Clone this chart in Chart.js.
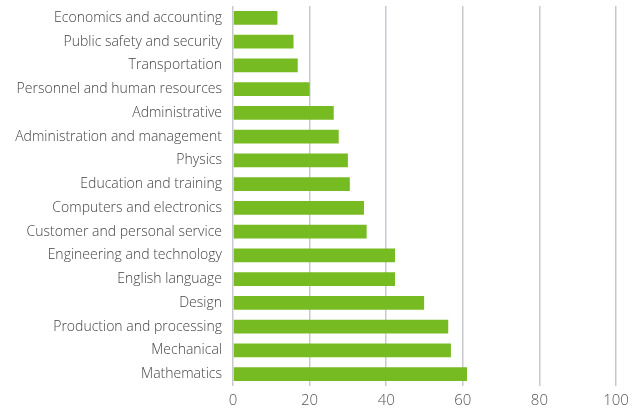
<!DOCTYPE html>
<html lang="en">
<head>
    <meta charset="UTF-8">
    <title>Knowledge areas</title>
    <script src="https://cdn.jsdelivr.net/npm/chart.js"></script>
    <style>
        html, body {
            margin: 0;
            padding: 0;
            background: #ffffff;
        }
        .wrap {
            width: 642px;
            height: 412px;
        }
    </style>
</head>
<body>
    <div class="wrap">
        <canvas id="myChart" width="642" height="412"></canvas>
    </div>

    <script>
        // 項目（上から順に）
        var categories = [
            'Economics and accounting',
            'Public safety and security',
            'Transportation',
            'Personnel and human resources',
            'Administrative',
            'Administration and management',
            'Physics',
            'Education and training',
            'Computers and electronics',
            'Customer and personal service',
            'Engineering and technology',
            'English language',
            'Design',
            'Production and processing',
            'Mechanical',
            'Mathematics'
        ];

        var values = [11.6, 15.8, 16.9, 20.0, 26.3, 27.6, 30.0, 30.5, 34.2, 34.9, 42.3, 42.3, 49.9, 56.2, 56.9, 61.1];

        var xTicks = [0, 20, 40, 60, 80, 100];

        var ctx = document.getElementById('myChart').getContext('2d');
        var myChart = new Chart(ctx, {
            type: 'bar',
            data: {
                labels: categories,
                datasets: [{
                    data: values,
                    backgroundColor: '#77bb22',
                    barPercentage: 0.58,
                    categoryPercentage: 1.0
                }]
            },
            options: {
                indexAxis: 'y',
                responsive: false,
                animation: false,
                layout: {
                    padding: { top: 6, right: 26, bottom: 0, left: 0 }
                },
                plugins: {
                    legend: { display: false },
                    tooltip: { enabled: false }
                },
                scales: {
                    x: {
                        min: 0,
                        max: 100,
                        afterBuildTicks: function (axis) {
                            axis.ticks = xTicks.map(function (v) { return { value: v }; });
                        },
                        afterFit: function (axis) {
                            axis.height = 26;
                        },
                        grid: {
                            color: '#c6cad0',
                            lineWidth: 1.5,
                            drawTicks: false
                        },
                        border: { display: false },
                        ticks: {
                            padding: 6,
                            color: '#555555',
                            font: { family: 'Open Sans', size: 15, weight: 300 }
                        }
                    },
                    y: {
                        afterFit: function (axis) {
                            axis.width = 233;
                            axis.paddingTop = 0;
                            axis.paddingBottom = 0;
                        },
                        grid: { display: false, drawTicks: false },
                        border: { display: false },
                        ticks: {
                            padding: 11,
                            color: '#444444',
                            font: { family: 'Open Sans', size: 14, weight: 300 }
                        }
                    }
                }
            }
        });
    </script>
</body>
</html>
